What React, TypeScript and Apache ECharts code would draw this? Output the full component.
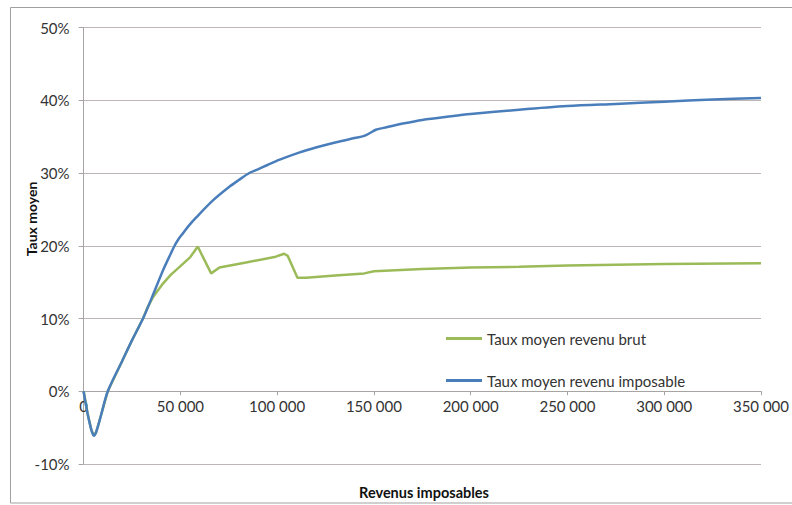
import React, { useEffect, useRef } from "react";
import * as echarts from "echarts";

// Taux moyen revenu imposable (blue)
const imposableX = [0, 2000, 4000, 5300, 6500, 9000, 12500, 20000, 25000, 30700, 35000, 41000, 45000, 47000, 49000, 51300, 54500, 58200, 66700, 75300, 80000, 85600, 90000, 95000, 101000, 111300, 120000, 130000, 140000, 145000, 148000, 151000, 155000, 165000, 175000, 190000, 200000, 225000, 250000, 275000, 300000, 325000, 350000];
const imposableY = [0, -3.0, -5.3, -6.1, -5.6, -3.3, 0, 4.2, 7.0, 10, 12.7, 16.6, 18.9, 20.0, 20.9, 21.7, 22.8, 23.9, 26.2, 28.1, 29.0, 30.0, 30.5, 31.1, 31.8, 32.8, 33.5, 34.2, 34.8, 35.1, 35.5, 35.95, 36.2, 36.8, 37.3, 37.8, 38.1, 38.7, 39.2, 39.5, 39.8, 40.1, 40.3];

// Taux moyen revenu brut (green)
const brutX = [0, 2000, 4000, 5300, 6500, 9000, 12500, 20000, 25000, 30700, 33000, 36000, 41000, 45000, 49600, 55000, 59000, 61000, 65900, 70200, 83900, 99300, 103600, 105500, 110500, 115000, 130000, 145000, 150000, 175000, 200000, 225000, 250000, 300000, 350000];
const brutY = [0, -3.0, -5.3, -6.1, -5.6, -3.3, 0, 4.2, 7.0, 10, 11.5, 13.0, 14.8, 16.0, 17.1, 18.4, 19.9, 18.8, 16.2, 17.0, 17.7, 18.5, 18.9, 18.6, 15.6, 15.6, 15.9, 16.2, 16.5, 16.8, 17.0, 17.1, 17.3, 17.5, 17.6];

const seriesNames = ["Taux moyen revenu brut", "Taux moyen revenu imposable"];
const xTitle = "Revenus imposables";
const yTitle = "Taux moyen";

const FONT = "Lato, 'Liberation Sans', sans-serif";

const GRID_TOP = 27.5;
const GRID_BOTTOM = 41;
const CHART_H = 505;
const Y_MIN = -10;
const Y_MAX = 50;

function pairs(xs: number[], ys: number[]) {
  return xs.map((x, i) => [x, ys[i]]);
}

function fmtThousands(v: number) {
  const s = String(Math.round(v));
  return s.replace(/\B(?=(\d{3})+(?!\d))/g, " ");
}

export default function App() {
  const ref = useRef<HTMLDivElement>(null);
  useEffect(() => {
    if (!ref.current) return;
    const chart = echarts.init(ref.current, null, { renderer: "svg" });
    const plotH = CHART_H - GRID_TOP - GRID_BOTTOM;
    // move the x axis up to the 0% line (Excel-style crossing at zero)
    const zeroOffset = -plotH * ((0 - Y_MIN) / (Y_MAX - Y_MIN));
    chart.setOption({
      animation: false,
      backgroundColor: "#ffffff",
      grid: { left: 83.6, right: 28, top: GRID_TOP, bottom: GRID_BOTTOM, containLabel: false },
      legend: {
        orient: "vertical",
        left: 441,
        top: 326,
        itemWidth: 36,
        itemHeight: 3,
        itemGap: 27,
        icon: "rect",
        data: seriesNames,
        textStyle: { fontFamily: FONT, fontSize: 15, color: "#333333" },
      },
      xAxis: {
        type: "value",
        min: 0,
        max: 350000,
        interval: 50000,
        offset: zeroOffset,
        axisLine: { onZero: false, lineStyle: { color: "#a8a4a4", width: 1 } },
        axisTick: { show: true, length: 4, lineStyle: { color: "#a8a4a4" } },
        splitLine: { show: false },
        axisLabel: {
          formatter: (v: number) => fmtThousands(v),
          fontFamily: FONT,
          fontSize: 15,
          color: "#333333",
          margin: 7,
        },
      },
      yAxis: {
        type: "value",
        min: Y_MIN,
        max: Y_MAX,
        interval: 10,
        axisLine: { show: true, onZero: false, lineStyle: { color: "#a8a4a4", width: 1 } },
        axisTick: { show: true, length: 5, lineStyle: { color: "#a8a4a4" } },
        splitLine: { show: true, lineStyle: { color: "#bdb6b6", width: 1 } },
        axisLabel: {
          formatter: "{value}%",
          fontFamily: FONT,
          fontSize: 15,
          color: "#333333",
          margin: 14,
        },
      },
      graphic: [
        {
          type: "rect",
          shape: { x: 10.5, y: 7.5, width: 800, height: 495.5 },
          style: { fill: "none", stroke: "#a0a0a0", lineWidth: 1 },
          silent: true,
        },
        {
          type: "text",
          x: 31,
          y: 219,
          rotation: Math.PI / 2,
          style: {
            text: yTitle,
            fontFamily: FONT,
            fontSize: 14,
            fontWeight: "bold",
            fill: "#111111",
            align: "center",
            verticalAlign: "middle",
          },
        },
        {
          type: "text",
          x: 424,
          y: 492,
          style: {
            text: xTitle,
            fontFamily: FONT,
            fontSize: 14.5,
            fontWeight: "bold",
            fill: "#111111",
            align: "center",
            verticalAlign: "middle",
          },
        },
      ],
      series: [
        {
          name: seriesNames[0],
          type: "line",
          data: pairs(brutX, brutY),
          showSymbol: false,
          symbol: "none",
          smooth: false,
          lineStyle: { color: "#9bbb59", width: 2.5 },
          itemStyle: { color: "#9bbb59" },
          z: 2,
        },
        {
          name: seriesNames[1],
          type: "line",
          data: pairs(imposableX, imposableY),
          showSymbol: false,
          symbol: "none",
          smooth: 0.3,
          lineStyle: { color: "#4a7ebb", width: 2.5 },
          itemStyle: { color: "#4a7ebb" },
          z: 3,
        },
      ],
    });
    return () => chart.dispose();
  }, []);
  return (
    <div
      ref={ref}
      style={{ position: "fixed", left: 0, top: 0, width: 792, height: 505 }}
    />
  );
}
